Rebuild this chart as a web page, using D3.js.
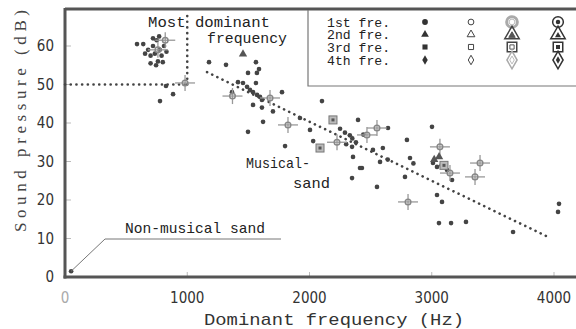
<!DOCTYPE html>
<html><head><meta charset="utf-8">
<script src="https://cdn.jsdelivr.net/npm/d3@7"></script>
<style>body{margin:0;background:#fff}svg{display:block}</style>
</head><body>
<svg id="c" width="576" height="329"></svg>
<script>
// ---- data (Hz, dB) ----
const xTicks = [0, 1000, 2000, 3000, 4000];
const yTicks = [0, 10, 20, 30, 40, 50, 60];
const legendRows = ["1st fre.", "2nd fre.", "3rd fre.", "4th fre."];
// 1st fre. filled circles
const fre1Points = [
  [589,60.5],[640,60.5],[655,58],[680,59],[700,57.5],[700,55.5],[720,60],[720,62],[735,58],[745,55],
  [750,61.5],[760,56],[770,62.5],[775,59],[790,57.5],[800,55.8],[810,60],[830,58.5],
  [777,45.7],[884,47.5],[826,49.6],[50,1.5],
  [1178,55.8],[1317,55.1],[1562,55.8],[1587,54],[1570,53],[1497,53],[1562,50.4],[1366,48],
  [1415,50.6],[1456,50.4],[1489,49.4],[1513,48.6],[1538,48],[1571,47.3],[1595,46.8],[1611,46],
  [1538,44.7],[1611,44],[1775,48],[1701,43],[1620,40.3],[1497,37.7],[1800,34],[1922,41.3],
  [2004,38.2],[2030,35.3],[2102,45.7],[2250,38.5],[2290,37.5],[2330,36.8],[2397,40.8],[2350,36],
  [2380,35],[2440,37],[2642,38.7],[2348,33.8],[2356,31.2],[2429,28.3],[2348,25.7],[2552,23.4],
  [2519,33],[2577,29.9],[2797,35.6],[2822,30.9],[2850,29.5],[3002,39],[2781,26],[3043,28.6],
  [3010,29.6],[3080,29],[3125,27.8],[3166,25.2],[3043,21.3],[3084,19.5],[3059,14],[3158,14],
  [3280,14.3],[3665,11.7],[4041,19],[4033,16.9],[2413,28.3],[2600,33.5],[2640,30.5],[2300,34.5]
];
// gray ring markers (appear as crosses)
const ringPoints = [
  [760,59],[820,61.5],[982,50.4],[1370,47],[1677,46.5],[1824,39.5],[2225,35],[2470,36.9],
  [2552,38.7],[3067,33.8],[3395,29.6],[3354,26],[3149,27],[2806,19.5]
];
// 2nd fre. filled triangles
const fre2Points = [[1456,57.9],[3020,30.5],[3060,31.2]];
// 3rd fre. squares
const fre3Points = [[2086,33.5],[2192,40.8],[3100,29]];
// reference lines
const mostDominantH = [[0,50],[1000,50]];
const mostDominantV = [[1000,50],[1000,68]];
const trendLine = [[1162,53.2],[3951,10.4]];

// ---- drawing ----
const svg = d3.select("#c");
const x = d3.scaleLinear().domain([0,4000]).range([65,554]);
const y = d3.scaleLinear().domain([0,60]).range([277,46]);
const ink = "#333", axisCol = "#555";
const mono = "'Liberation Mono','DejaVu Sans Mono',monospace";
const narrow = "'Liberation Sans Narrow','DejaVu Sans Condensed','Roboto Condensed','Liberation Sans',sans-serif";

// inner ticks
svg.append("g").selectAll("line").data(yTicks.slice(1)).join("line")
  .attr("x1", x(0)).attr("x2", x(0)+6).attr("y1", d=>y(d)).attr("y2", d=>y(d))
  .attr("stroke","#bbb").attr("stroke-width",1);
svg.append("g").selectAll("line").data(xTicks.slice(1)).join("line")
  .attr("x1", d=>x(d)).attr("x2", d=>x(d)).attr("y1", y(0)).attr("y2", y(0)-5)
  .attr("stroke","#bbb").attr("stroke-width",1);

// frame
svg.append("line").attr("x1",x(0)).attr("x2",576).attr("y1",9).attr("y2",9).attr("stroke",axisCol).attr("stroke-width",3);
svg.append("line").attr("x1",x(0)).attr("x2",x(0)).attr("y1",8).attr("y2",y(0)+1.5).attr("stroke",axisCol).attr("stroke-width",3);
svg.append("line").attr("x1",x(0)-1.5).attr("x2",576).attr("y1",y(0)).attr("y2",y(0)).attr("stroke",axisCol).attr("stroke-width",3);

// tick labels
svg.append("g").selectAll("text").data(yTicks).join("text")
  .attr("x", 54).attr("y", d=>y(d)+5).attr("text-anchor","end")
  .attr("font-family",narrow).attr("font-size",15).attr("fill",ink).text(d=>d);
svg.append("g").selectAll("text").data(xTicks).join("text")
  .attr("x", d=>x(d)).attr("y", 303).attr("text-anchor","middle")
  .attr("font-family",narrow).attr("font-size",15).attr("fill",d=>d===0?"#aaa":ink).text(d=>d);

// axis titles
svg.append("text").attr("x",334).attr("y",325).attr("text-anchor","middle")
  .attr("font-family",mono).attr("font-size",17).attr("fill",ink)
  .attr("textLength",260).attr("lengthAdjust","spacingAndGlyphs").text("Dominant frequency (Hz)");
svg.append("text").attr("transform","translate(26,121) rotate(-90)").attr("text-anchor","middle")
  .attr("font-family","'Liberation Serif','DejaVu Serif',serif").attr("font-size",17).attr("fill","#444")
  .attr("textLength",222).attr("lengthAdjust","spacing").text("Sound pressure (dB)");

// dotted reference lines
const line = d3.line().x(d=>x(d[0])).y(d=>y(d[1]));
[mostDominantH, mostDominantV, trendLine].forEach(pts=>{
  svg.append("path").attr("d",line(pts)).attr("fill","none").attr("stroke","#444")
    .attr("stroke-width",2.6).attr("stroke-linecap","round").attr("stroke-dasharray","0.1,5.6");
});

// points
const sym = (type,size)=>d3.symbol().type(type).size(size)();
svg.append("g").selectAll("path").data(fre1Points).join("path")
  .attr("transform",d=>`translate(${x(d[0])},${y(d[1])})`)
  .attr("d",sym(d3.symbolCircle,17)).attr("fill","#444");
const rg = svg.append("g").selectAll("g").data(ringPoints).join("g")
  .attr("transform",d=>`translate(${x(d[0])},${y(d[1])})`);
rg.append("line").attr("x1",-10).attr("x2",10).attr("stroke","#999").attr("stroke-width",1.3);
rg.append("line").attr("y1",-8).attr("y2",8).attr("stroke","#999").attr("stroke-width",1.3);
rg.append("circle").attr("r",2.8).attr("fill","none").attr("stroke","#888").attr("stroke-width",1.5);
svg.append("g").selectAll("path").data(fre2Points).join("path")
  .attr("transform",d=>`translate(${x(d[0])},${y(d[1])})`)
  .attr("d",sym(d3.symbolTriangle,30)).attr("fill","#555");
const sg = svg.append("g").selectAll("g").data(fre3Points).join("g")
  .attr("transform",d=>`translate(${x(d[0])},${y(d[1])})`);
sg.append("rect").attr("x",-4).attr("y",-4).attr("width",8).attr("height",8).attr("fill","#bbb").attr("stroke","#777");
sg.append("rect").attr("x",-1.5).attr("y",-1.5).attr("width",3).attr("height",3).attr("fill","#555");

// annotations
svg.append("text").attr("x",148).attr("y",27).attr("font-family",mono).attr("font-size",14).attr("fill","#222")
  .attr("textLength",122).attr("lengthAdjust","spacingAndGlyphs").text("Most dominant");
svg.append("text").attr("x",207).attr("y",43).attr("font-family",mono).attr("font-size",14).attr("fill","#222")
  .attr("textLength",80).attr("lengthAdjust","spacingAndGlyphs").text("frequency");
svg.append("text").attr("x",246).attr("y",168).attr("font-family",mono).attr("font-size",15).attr("fill","#222")
  .attr("textLength",64).attr("lengthAdjust","spacingAndGlyphs").text("Musical-");
svg.append("text").attr("x",293).attr("y",188).attr("font-family",mono).attr("font-size",15).attr("fill","#222")
  .attr("textLength",37).attr("lengthAdjust","spacingAndGlyphs").text("sand");
svg.append("text").attr("x",125).attr("y",233).attr("font-family",mono).attr("font-size",15).attr("fill","#222")
  .attr("textLength",140).attr("lengthAdjust","spacingAndGlyphs").text("Non-musical sand");
svg.append("path").attr("d",`M${x(50)},${y(1.5)} L105,239 L281,239`).attr("fill","none")
  .attr("stroke","#777").attr("stroke-width",1);

// legend
const lg = svg.append("g");
lg.append("path").attr("d","M308,10 L308,86 L576,86").attr("fill","none").attr("stroke","#777").attr("stroke-width",1.2);
const rowY = [22,34.5,47,60];
lg.selectAll("text").data(legendRows).join("text")
  .attr("x",327).attr("y",(d,i)=>rowY[i]+4.5).attr("font-family",mono).attr("font-size",12).attr("fill","#222")
  .attr("textLength",63).attr("lengthAdjust","spacingAndGlyphs").text(d=>d);
const shapes = [d3.symbolCircle, d3.symbolTriangle, d3.symbolSquare, d3.symbolDiamond];
const cols = [425, 471, 512, 558];
shapes.forEach((s,i)=>{
  const cy = rowY[i];
  lg.append("path").attr("transform",`translate(${cols[0]},${cy})`).attr("d",sym(s,26)).attr("fill","#333");
  lg.append("path").attr("transform",`translate(${cols[1]},${cy})`).attr("d",sym(s,26)).attr("fill","none").attr("stroke","#444").attr("stroke-width",1);
  lg.append("path").attr("transform",`translate(${cols[2]},${cy})`).attr("d",sym(s,90)).attr("fill","none").attr("stroke",i===0||i===3?"#aaa":"#444").attr("stroke-width",i===0?3:1.5);
  lg.append("path").attr("transform",`translate(${cols[2]},${cy+(i===1?1:0)})`).attr("d",sym(s,i===0?26:18)).attr("fill",i===1?"#555":"none").attr("stroke",i===0||i===3?"#bbb":"#555").attr("stroke-width",1);
  lg.append("path").attr("transform",`translate(${cols[3]},${cy})`).attr("d",sym(s,90)).attr("fill","none").attr("stroke","#333").attr("stroke-width",1.5);
  lg.append("path").attr("transform",`translate(${cols[3]},${cy+(i===1?1:0)})`).attr("d",sym(s,16)).attr("fill","#333");
});
</script>
</body></html>
